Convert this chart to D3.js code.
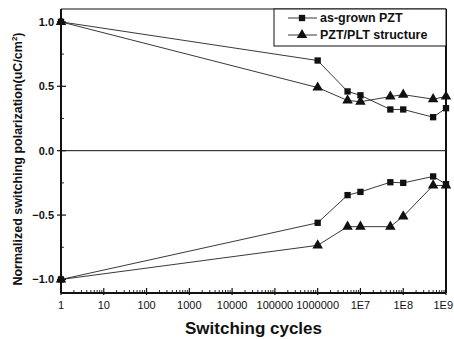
<!DOCTYPE html>
<html>
<head>
<meta charset="utf-8">
<script src="https://cdn.jsdelivr.net/npm/d3@7"></script>
<style>
  body { margin: 0; background: #fff; }
  text { font-family: "Liberation Sans", Arial, sans-serif; }
</style>
</head>
<body>
<div id="chart"></div>
<script>
// switching cycles (x) and normalized polarization for each series
const cycles = [1, 1e6, 5e6, 1e7, 5e7, 1e8, 5e8, 1e9];
const pztPos = [1.0, 0.70, 0.46, 0.43, 0.32, 0.32, 0.26, 0.33];
const pztNeg = [-1.0, -0.56, -0.345, -0.32, -0.245, -0.25, -0.20, -0.26];
const pltPos = [1.0, 0.49, 0.39, 0.38, 0.42, 0.435, 0.40, 0.42];
const pltNeg = [-1.0, -0.735, -0.59, -0.59, -0.59, -0.51, -0.27, -0.27];
const xTicks = [1, 10, 100, 1000, 10000, 100000, 1000000, 1e7, 1e8, 1e9];
const xTickLabels = ["1", "10", "100", "1000", "10000", "100000", "1000000", "1E7", "1E8", "1E9"];
const yTicks = [-1.0, -0.5, 0.0, 0.5, 1.0];
const yMinor = [-0.75, -0.25, 0.25, 0.75];
const legendNames = ["as-grown PZT", "PZT/PLT structure"];

const width = 454, height = 339;
const margin = {left: 61, right: 8, top: 9, bottom: 46};

const svg = d3.select("#chart").append("svg")
    .attr("width", width)
    .attr("height", height);

const x = d3.scaleLog()
    .domain([1, 1e9])
    .range([margin.left, width - margin.right]);

const y = d3.scaleLinear()
    .domain([-1.105, 1.1])
    .range([height - margin.bottom, margin.top]);

const x0 = margin.left, x1 = width - margin.right;
const y0 = height - margin.bottom, y1 = margin.top;

// minor x ticks
const minorX = [];
for (let e = 0; e < 9; e++) {
    for (let m = 2; m <= 9; m++) minorX.push(m * Math.pow(10, e));
}
svg.selectAll(".xminor").data(minorX).enter().append("line")
    .attr("x1", d => x(d)).attr("x2", d => x(d))
    .attr("y1", y0).attr("y2", y0 - 3)
    .attr("stroke", "#111").attr("stroke-width", 0.9);

svg.selectAll(".xmajor").data(xTicks).enter().append("line")
    .attr("x1", d => x(d)).attr("x2", d => x(d))
    .attr("y1", y0 + 2).attr("y2", y0 - 5)
    .attr("stroke", "#111").attr("stroke-width", 1.2);

// last label would run off the page, so it is pinned to the right edge
svg.selectAll(".xlab").data(xTicks).enter().append("text")
    .attr("x", (d, i) => i === xTicks.length - 1 ? width - 1 : x(d))
    .attr("y", y0 + 16)
    .attr("text-anchor", (d, i) => i === xTicks.length - 1 ? "end" : "middle")
    .attr("font-size", 11)
    .attr("fill", "#111")
    .text((d, i) => xTickLabels[i]);

// y ticks
svg.selectAll(".yminor").data(yMinor).enter().append("line")
    .attr("x1", x0).attr("x2", x0 + 3)
    .attr("y1", d => y(d)).attr("y2", d => y(d))
    .attr("stroke", "#111").attr("stroke-width", 0.9);

svg.selectAll(".ymajor").data(yTicks).enter().append("line")
    .attr("x1", x0 - 4).attr("x2", x0 + 5)
    .attr("y1", d => y(d)).attr("y2", d => y(d))
    .attr("stroke", "#111").attr("stroke-width", 1.2);

svg.selectAll(".ylab").data(yTicks).enter().append("text")
    .attr("x", x0 - 7)
    .attr("y", d => y(d) + 4)
    .attr("text-anchor", "end")
    .attr("font-size", 11)
    .attr("font-weight", "bold")
    .attr("fill", "#111")
    .text(d => d3.format(".1f")(d));

// zero line
svg.append("line")
    .attr("x1", x0).attr("x2", x1)
    .attr("y1", y(0)).attr("y2", y(0))
    .attr("stroke", "#111").attr("stroke-width", 1);

// frame
svg.append("line").attr("x1", x0).attr("x2", x1).attr("y1", y1).attr("y2", y1)
    .attr("stroke", "#111").attr("stroke-width", 1);
svg.append("line").attr("x1", x0).attr("x2", x0).attr("y1", y1).attr("y2", y0)
    .attr("stroke", "#111").attr("stroke-width", 2);
svg.append("line").attr("x1", x1).attr("x2", x1).attr("y1", y1).attr("y2", y0)
    .attr("stroke", "#111").attr("stroke-width", 2);
svg.append("line").attr("x1", x0).attr("x2", x1).attr("y1", y0).attr("y2", y0)
    .attr("stroke", "#111").attr("stroke-width", 2);

// series
const line = d3.line().x((d, i) => x(cycles[i])).y(d => y(d));
const square = d3.symbol().type(d3.symbolSquare).size(40);
const triangle = d3.symbol().type(d3.symbolTriangle).size(48);

function drawSeries(vals, sym) {
    svg.append("path")
        .attr("d", line(vals))
        .attr("fill", "none")
        .attr("stroke", "#222")
        .attr("stroke-width", 0.9);
    svg.selectAll(null).data(vals).enter().append("path")
        .attr("d", sym)
        .attr("transform", (d, i) => `translate(${x(cycles[i])},${y(d)})`)
        .attr("fill", "#111");
}
drawSeries(pztPos, square);
drawSeries(pztNeg, square);
drawSeries(pltPos, triangle);
drawSeries(pltNeg, triangle);

// legend
const lg = svg.append("g");
lg.append("rect")
    .attr("x", 274).attr("y", y1)
    .attr("width", x1 - 274).attr("height", 37)
    .attr("fill", "#fff").attr("stroke", "#111").attr("stroke-width", 1);
[square, triangle].forEach((sym, i) => {
    const ly = 18 + i * 17;
    lg.append("line")
        .attr("x1", 288).attr("x2", 317)
        .attr("y1", ly).attr("y2", ly)
        .attr("stroke", "#222").attr("stroke-width", 0.9);
    lg.append("path")
        .attr("d", sym)
        .attr("transform", `translate(302,${ly})`)
        .attr("fill", "#111");
    lg.append("text")
        .attr("x", 320).attr("y", ly + 4)
        .attr("font-size", 12.5)
        .attr("font-weight", "bold")
        .attr("fill", "#111")
        .text(legendNames[i]);
});

// axis titles
svg.append("text")
    .attr("x", (x0 + x1) / 2)
    .attr("y", 334)
    .attr("text-anchor", "middle")
    .attr("font-size", 17)
    .attr("font-weight", "bold")
    .attr("fill", "#111")
    .text("Switching cycles");

const yt = svg.append("text")
    .attr("transform", `translate(22,${(y0 + y1) / 2 + 8}) rotate(-90)`)
    .attr("text-anchor", "middle")
    .attr("font-size", 12.5)
    .attr("font-weight", "bold")
    .attr("fill", "#111");
yt.append("tspan").text("Normalized switching polarization(uC/cm");
yt.append("tspan").attr("font-size", 8).attr("dy", -5).text("2");
yt.append("tspan").attr("dy", 5).text(")");
</script>
</body>
</html>
